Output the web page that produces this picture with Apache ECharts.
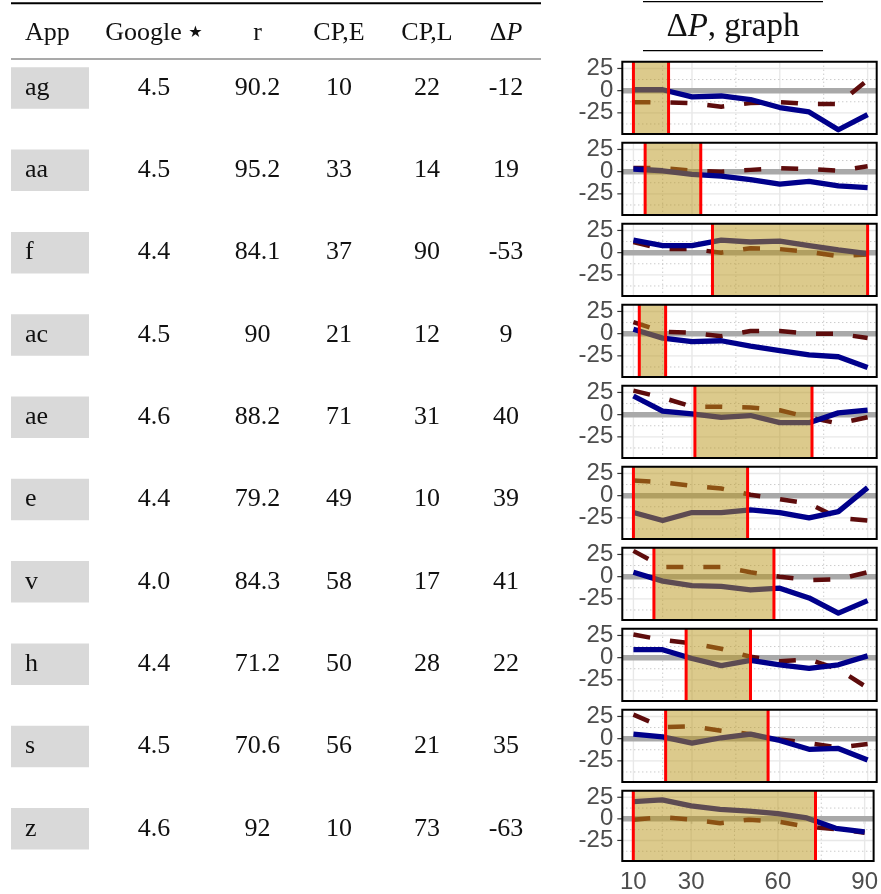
<!DOCTYPE html>
<html>
<head>
<meta charset="utf-8">
<script src="https://cdn.jsdelivr.net/npm/echarts@6.0.0/dist/echarts.min.js"></script>
<style>
html,body{margin:0;padding:0;background:#fff;}
#chart{width:881px;height:894px;}
</style>
</head>
<body>
<div id="chart"></div>
<script>
// ---------------- data ----------------
const apps    = ['ag','aa','f','ac','ae','e','v','h','s','z'];
const google  = ['4.5','4.5','4.4','4.5','4.6','4.4','4.0','4.4','4.5','4.6'];
const rVals   = ['90.2','95.2','84.1','90','88.2','79.2','84.3','71.2','70.6','92'];
const cpE     = [10,33,37,21,71,49,58,50,56,10];
const cpL     = [22,14,90,12,31,10,17,28,21,73];
const deltaP  = [-12,19,-53,9,40,39,41,22,35,-63];

const xs = [10,20,30,40,50,60,70,80,90];

const solidAg = [1,1,-7,-6,-10,-19,-24,-44,-27];
const solidAa = [3,1,-3,-5,-9,-14,-11,-16,-18];
const solidF  = [14,8,8,14,12,13,8,3,-1];
const solidAc = [5,-5,-9,-8,-14,-19,-24,-26,-38];
const solidAe = [21,4,1,-3,-1,-9,-9,2,5];
const solidE  = [-19,-28,-19,-19,-16,-19,-25,-18,9];
const solidV  = [5,-5,-10,-11,-15,-13,-24,-41,-27];
const solidH  = [9,9,-1,-9,-3,-8,-12,-8,2];
const solidS  = [5,2,-5,1,5,-2,-12,-11,-24];
const solidZ  = [20,22,15,11,9,6,1,-11,-15];

const dashAg = [-13,-13,-14,-18,-14,-13,-15,-15,12];
const dashAa = [4,4,1,0,2,4,3,1,6];
const dashF  = [12,4,4,0,5,4,1,-4,-2];
const dashAc = [13,2,1,-3,3,3,0,0,-5];
const dashAe = [27,19,9,9,8,5,-3,-10,-3];
const dashE  = [17,15,11,8,1,-4,-9,-25,-28];
const dashV  = [29,11,11,11,5,0,-4,-3,5];
const dashH  = [26,20,16,10,1,-4,-2,-13,-34];
const dashS  = [27,13,14,9,5,-1,-5,-10,-6];
const dashZ  = [-1,2,-1,-5,-1,-3,-9,-12,-16];

const solidAll = [solidAg,solidAa,solidF,solidAc,solidAe,solidE,solidV,solidH,solidS,solidZ];
const dashAll  = [dashAg,dashAa,dashF,dashAc,dashAe,dashE,dashV,dashH,dashS,dashZ];

const xTicks = [10,30,60,90];
const xMinor = [20,45,75];
const yTicks = [-25,0,25];
const yMinor = [-37.5,-12.5,12.5];
const zeroLine = [0];

// ---------------- layout ----------------
const panelTop0 = 61.7, panelStep = 81, panelH = 72.3;
const panelLeft = 622.3, panelW = 254.4;
const xMin = 6.2, xMax = 93.1, yMin = -48.8, yMax = 32.6;

const serif = "'Liberation Serif','DejaVu Serif',serif";
const sans = "'Liberation Sans','DejaVu Sans',sans-serif";

const grids = [], xAxes = [], yAxes = [], series = [];

function renderGrid(params, api) {
  const v = api.value(0), kind = api.value(1);
  const cs = params.coordSys;
  if (kind < 2) {
    const x = api.coord([v, 0])[0];
    const style = kind === 0 ? {stroke: '#e8e8e8', lineWidth: 1.4}
                             : {stroke: '#b5b5b5', lineWidth: 1, lineDash: [1, 3]};
    return {type: 'line', shape: {x1: x, y1: cs.y, x2: x, y2: cs.y + cs.height}, style: style};
  }
  const y = api.coord([xTicks[0], v])[1];
  const shape = {x1: cs.x, y1: y, x2: cs.x + cs.width, y2: y};
  if (kind === 3) {
    return {type: 'line', shape: shape, style: {stroke: '#b5b5b5', lineWidth: 1, lineDash: [1, 3]}};
  }
  if (kind === 4) {
    return {type: 'line', shape: shape, style: {stroke: '#a9a9a9', lineWidth: 5.5}};
  }
  return {
    type: 'group',
    children: [
      {type: 'line', shape: shape, style: {stroke: '#e8e8e8', lineWidth: 1.4}},
      {type: 'line', shape: {x1: cs.x - 5, y1: y, x2: cs.x, y2: y}, style: {stroke: '#333', lineWidth: 1.2}},
      {type: 'text', style: {text: String(v), x: cs.x - 9, y: y, align: 'right', verticalAlign: 'middle',
        fontSize: 24, fontFamily: sans, fill: '#4d4d4d'}}
    ]
  };
}

function renderBand(params, api) {
  const lo = api.value(0), hi = api.value(1);
  const cs = params.coordSys;
  const x1 = api.coord([lo, 0])[0], x2 = api.coord([hi, 0])[0];
  return {
    type: 'group',
    children: [
      {type: 'rect', shape: {x: x1, y: cs.y, width: x2 - x1, height: cs.height},
       style: {fill: 'rgba(185,150,25,0.5)'}},
      {type: 'line', shape: {x1: x1, y1: cs.y, x2: x1, y2: cs.y + cs.height},
       style: {stroke: '#ff0000', lineWidth: 3}},
      {type: 'line', shape: {x1: x2, y1: cs.y, x2: x2, y2: cs.y + cs.height},
       style: {stroke: '#ff0000', lineWidth: 3}},
      {type: 'rect', shape: {x: cs.x, y: cs.y, width: cs.width, height: cs.height},
       style: {fill: 'none', stroke: '#000', lineWidth: 2}}
    ]
  };
}

for (let i = 0; i < apps.length; i++) {
  const top = panelTop0 + panelStep * i;
  const last = i === apps.length - 1;
  grids.push({left: panelLeft, top: top, width: panelW, height: panelH, show: true,
              backgroundColor: '#fff', borderWidth: 0});
  xAxes.push({
    type: 'value', gridIndex: i, min: xMin, max: xMax,
    axisLine: {show: false}, splitLine: {show: false},
    axisTick: {show: last, customValues: xTicks, length: 5, lineStyle: {color: '#333', width: 1.2}},
    axisLabel: {show: last, customValues: xTicks, fontSize: 24, color: '#4d4d4d',
                fontFamily: sans, margin: 9, hideOverlap: false}
  });
  yAxes.push({
    type: 'value', gridIndex: i, min: yMin, max: yMax,
    axisLine: {show: false}, splitLine: {show: false},
    axisTick: {show: false}, axisLabel: {show: false}
  });

  const gridData = [];
  xTicks.forEach(v => gridData.push([v, 0]));
  xMinor.forEach(v => gridData.push([v, 1]));
  yTicks.forEach(v => gridData.push([v, 2]));
  yMinor.forEach(v => gridData.push([v, 3]));
  zeroLine.forEach(v => gridData.push([v, 4]));

  series.push({
    type: 'custom', xAxisIndex: i, yAxisIndex: i, z: 1, silent: true, clip: false,
    renderItem: renderGrid, data: gridData
  });
  series.push({
    type: 'line', xAxisIndex: i, yAxisIndex: i, z: 2, silent: true,
    symbol: 'none', showSymbol: false,
    lineStyle: {color: '#5e0c0c', width: 4.5, type: [17, 20]},
    data: xs.map((x, k) => [x, dashAll[i][k]])
  });
  series.push({
    type: 'line', xAxisIndex: i, yAxisIndex: i, z: 3, silent: true,
    symbol: 'none', showSymbol: false,
    lineStyle: {color: '#00008b', width: 5.3, join: 'round'},
    data: xs.map((x, k) => [x, solidAll[i][k]])
  });
  series.push({
    type: 'custom', xAxisIndex: i, yAxisIndex: i, z: 5, silent: true, clip: false,
    renderItem: renderBand,
    data: [[Math.min(cpE[i], cpL[i]), Math.max(cpE[i], cpL[i])]]
  });
}

// ---------------- table (graphic) ----------------
const colX = [154, 257.5, 339, 427, 506];
const headerY = 33;
const rowY0 = 88, rowStep = 82.3;
const graphics = [];

function txt(x, y, text, align, extra) {
  const st = Object.assign({text: text, x: x, y: y, align: align, verticalAlign: 'middle',
    fontSize: 26, fontFamily: serif, fill: '#111'}, extra || {});
  return {type: 'text', style: st, z: 10};
}
const richDP = {
  a: {fontSize: 26, fontFamily: serif, fill: '#111'},
  b: {fontSize: 26, fontFamily: serif, fill: '#111', fontStyle: 'italic'},
  s: {fontSize: 16, fontFamily: "'DejaVu Sans',sans-serif", fill: '#111'}
};
const richBig = {
  a: {fontSize: 33, fontFamily: serif, fill: '#111'},
  b: {fontSize: 33, fontFamily: serif, fill: '#111', fontStyle: 'italic'}
};

graphics.push({type: 'line', shape: {x1: 11, y1: 3.3, x2: 541, y2: 3.3}, style: {stroke: '#000', lineWidth: 2}});
graphics.push({type: 'line', shape: {x1: 11, y1: 59, x2: 541, y2: 59}, style: {stroke: '#555', lineWidth: 1.2}});
graphics.push(txt(25, headerY, 'App', 'left'));
graphics.push({type: 'text', z: 10, style: {text: '{a|Google }{s|\u2605}', rich: richDP, x: colX[0], y: headerY,
  align: 'center', verticalAlign: 'middle', fontSize: 26, fontFamily: serif}});
graphics.push(txt(colX[1], headerY, 'r', 'center'));
graphics.push(txt(colX[2], headerY, 'CP,E', 'center'));
graphics.push(txt(colX[3], headerY, 'CP,L', 'center'));
graphics.push({type: 'text', z: 10, style: {text: '{a|\u0394}{b|P}', rich: richDP, x: colX[4], y: headerY,
  align: 'center', verticalAlign: 'middle', fontSize: 26, fontFamily: serif}});

// right header
graphics.push({type: 'line', shape: {x1: 643, y1: 1.6, x2: 823, y2: 1.6}, style: {stroke: '#000', lineWidth: 1.3}});
graphics.push({type: 'line', shape: {x1: 643, y1: 50.7, x2: 823, y2: 50.7}, style: {stroke: '#000', lineWidth: 1.3}});
graphics.push({type: 'text', z: 10, style: {text: '{a|\u0394}{b|P}{a|, graph}', rich: richBig, x: 733, y: 27,
  align: 'center', verticalAlign: 'middle', fontSize: 33, fontFamily: serif}});

for (let i = 0; i < apps.length; i++) {
  const y = rowY0 + rowStep * i;
  graphics.push({type: 'rect', shape: {x: 11, y: y - 20.7, width: 78, height: 41.5}, style: {fill: '#d9d9d9'}, z: 5});
  graphics.push(txt(25, y, apps[i], 'left'));
  graphics.push(txt(colX[0], y, google[i], 'center'));
  graphics.push(txt(colX[1], y, rVals[i], 'center'));
  graphics.push(txt(colX[2], y, String(cpE[i]), 'center'));
  graphics.push(txt(colX[3], y, String(cpL[i]), 'center'));
  graphics.push(txt(colX[4], y, String(deltaP[i]), 'center'));
}

const chart = echarts.init(document.getElementById('chart'), null, {renderer: 'canvas'});
chart.setOption({
  backgroundColor: '#fff',
  animation: false,
  grid: grids,
  xAxis: xAxes,
  yAxis: yAxes,
  series: series,
  graphic: {elements: graphics}
});
</script>
</body>
</html>
